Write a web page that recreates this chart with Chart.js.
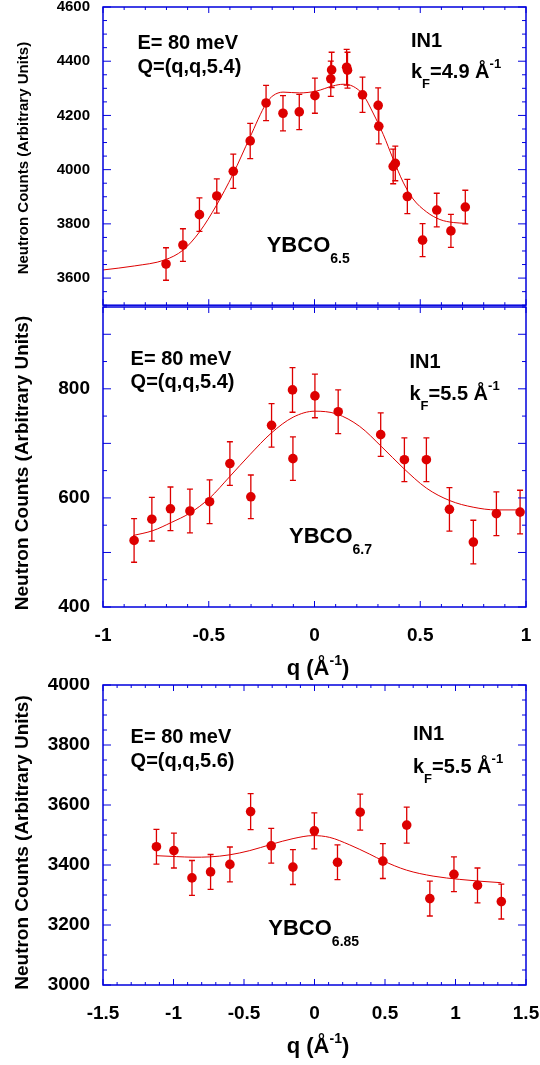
<!DOCTYPE html>
<html>
<head>
<meta charset="utf-8">
<script src="https://cdn.jsdelivr.net/npm/chart.js@4.4.1/dist/chart.umd.min.js"></script>
<style>
  body { margin: 0; background: #fff; }
  #wrap { position: relative; width: 540px; height: 1065px; }
  canvas { position: absolute; left: 0; }
</style>
</head>
<body>
<div id="wrap">
  <canvas id="c65" width="540" height="310" style="top:0px"></canvas>
  <canvas id="c67" width="540" height="380" style="top:300px"></canvas>
  <canvas id="c685" width="540" height="387" style="top:678px"></canvas>
</div>
<script>
// YBCO6.5, E = 80 meV, Q=(q,q,5.4), kF = 4.9
const q65 = [-0.702, -0.622, -0.544, -0.462, -0.384, -0.304, -0.229, -0.149, -0.072, 0.002, 0.077, 0.081,
             0.152, 0.156, 0.227, 0.301, 0.304, 0.372, 0.382, 0.439, 0.511, 0.578, 0.645, 0.713];
const counts65 = [3652, 3722, 3834, 3903, 3994, 4106, 4246, 4208, 4213, 4273, 4335, 4368,
                  4378, 4367, 4276, 4237, 4160, 4012, 4023, 3901, 3740, 3851, 3774, 3862];
const err65 = [60, 60, 62, 63, 63, 65, 65, 65, 65, 65, 65, 65, 66, 66, 65, 65, 65, 64, 64, 63, 61, 62, 61, 62];
const fitQ65 = [-1.0, -0.85, -0.708, -0.622, -0.543, -0.464, -0.385, -0.306, -0.227, -0.196, -0.149, -0.070,
                0.009, 0.088, 0.135, 0.183, 0.230, 0.277, 0.325, 0.372, 0.419, 0.466, 0.530, 0.593, 0.656, 0.719];
const fit65 = [3630, 3645, 3667, 3703, 3771, 3868, 3984, 4118, 4246, 4273, 4286, 4283,
               4290, 4309, 4315, 4307, 4276, 4209, 4130, 4039, 3954, 3892, 3844, 3816, 3805, 3802];
const yTicks65 = [3600, 3800, 4000, 4200, 4400, 4600];

// YBCO6.7, E = 80 meV, Q=(q,q,5.4), kF = 5.5
const q67 = [-0.853, -0.769, -0.681, -0.589, -0.496, -0.400, -0.301, -0.203, -0.104, -0.102,
             0.002, 0.112, 0.313, 0.425, 0.529, 0.638, 0.751, 0.860, 0.972];
const counts67 = [522, 561, 580, 576, 593, 663, 602, 733, 798, 672, 787, 758, 716, 670, 670, 579, 519, 571, 574];
const err67 = [40, 40, 40, 40, 40, 40, 40, 40, 41, 40, 40, 40, 40, 40, 40, 40, 40, 40, 40];
const fitQ67 = [-0.858, -0.764, -0.677, -0.590, -0.495, -0.401, -0.306, -0.204, -0.101, 0.001,
                0.104, 0.214, 0.317, 0.419, 0.529, 0.640, 0.750, 0.860, 0.971];
const fit67 = [531, 540, 555, 572, 600, 639, 679, 719, 748, 759, 754, 731, 694, 655, 618, 595, 583, 578, 578];
const yTicks67 = [400, 600, 800];
const qTicks1 = [-1, -0.5, 0, 0.5, 1];

// YBCO6.85, E = 80 meV, Q=(q,q,5.6), kF = 5.5
const q685 = [-1.121, -0.997, -0.869, -0.737, -0.600, -0.453, -0.307, -0.153, -0.001,
              0.163, 0.324, 0.485, 0.654, 0.818, 0.989, 1.156, 1.325];
const counts685 = [3461, 3448, 3357, 3377, 3402, 3578, 3464, 3393, 3514, 3409, 3576, 3413, 3533, 3288, 3369, 3332, 3278];
const err685 = [58, 58, 58, 58, 58, 60, 58, 58, 60, 58, 60, 58, 60, 58, 58, 58, 58];
const fitQ685 = [-1.121, -0.979, -0.862, -0.743, -0.601, -0.459, -0.305, -0.152, -0.010,
                 0.108, 0.250, 0.392, 0.486, 0.652, 0.841, 1.030, 1.172, 1.325];
const fit685 = [3431, 3428, 3426, 3427, 3434, 3448, 3469, 3488, 3498, 3492, 3467, 3436, 3414, 3383, 3363, 3352, 3346, 3341];
const yTicks685 = [3000, 3200, 3400, 3600, 3800, 4000];
const qTicks2 = [-1.5, -1, -0.5, 0, 0.5, 1, 1.5];

const FONT = "'Liberation Sans', Arial, Helvetica, sans-serif";
const RED = '#dd0000';
const BLUE = '#0000dd';

Chart.defaults.font.family = FONT;

// text with sub/superscripts: parts = [text, size, dy]
function rich(ctx, x, y, parts) {
  let cx = x;
  parts.forEach(([t, size, dy]) => {
    ctx.font = 'bold ' + size + 'px ' + FONT;
    ctx.fillText(t, cx, y + dy);
    cx += ctx.measureText(t).width;
  });
  return cx - x;
}

function noPad(s) {
  s.paddingLeft = 0; s.paddingRight = 0; s.paddingTop = 0; s.paddingBottom = 0;
}

const panelPlugin = {
  id: 'panel',
  beforeDatasetsDraw(chart) {
    const p = chart.config.options.panel;
    const ctx = chart.ctx, xs = chart.scales.x, ys = chart.scales.y;
    ctx.save();
    ctx.strokeStyle = RED;
    ctx.lineWidth = 1.3;
    p.q.forEach((q, i) => {
      const x = xs.getPixelForValue(q);
      const y0 = ys.getPixelForValue(p.counts[i] - p.err[i]);
      const y1 = ys.getPixelForValue(p.counts[i] + p.err[i]);
      ctx.beginPath();
      ctx.moveTo(x, y0); ctx.lineTo(x, y1);
      ctx.moveTo(x - 3, y0); ctx.lineTo(x + 3, y0);
      ctx.moveTo(x - 3, y1); ctx.lineTo(x + 3, y1);
      ctx.stroke();
    });
    ctx.restore();
  },
  afterDraw(chart) {
    const p = chart.config.options.panel;
    const ctx = chart.ctx, xs = chart.scales.x, ys = chart.scales.y;
    const a = chart.chartArea;
    ctx.save();
    ctx.strokeStyle = BLUE;
    ctx.lineWidth = 1;
    // inward ticks
    const yN = Math.round((ys.max - ys.min) / p.yMinor);
    for (let i = 0; i <= yN; i++) {
      const v = ys.min + i * p.yMinor;
      const y = ys.getPixelForValue(v);
      const len = Math.abs(v % p.yMajor) < 1e-6 ? 8 : 4;
      ctx.beginPath();
      ctx.moveTo(a.left, y); ctx.lineTo(a.left + len, y);
      ctx.moveTo(a.right, y); ctx.lineTo(a.right - len, y);
      ctx.stroke();
    }
    const xN = Math.round((xs.max - xs.min) / 0.1);
    for (let i = 0; i <= xN; i++) {
      const v = xs.min + i * 0.1;
      const x = xs.getPixelForValue(v);
      const len = (i % 5 === 0) ? 6 : 3;
      ctx.beginPath();
      ctx.moveTo(x, a.bottom); ctx.lineTo(x, a.bottom - len);
      ctx.moveTo(x, a.top); ctx.lineTo(x, a.top + len);
      ctx.stroke();
    }
    ctx.lineWidth = 1.5;
    ctx.strokeRect(a.left, a.top, a.right - a.left, a.bottom - a.top);

    // texts
    ctx.fillStyle = '#000';
    ctx.textBaseline = 'alphabetic';
    ctx.textAlign = 'left';
    const L = a.left, T = a.top;
    rich(ctx, L + p.eX, T + p.eY, [['E= 80 meV', 20, 0]]);
    rich(ctx, L + p.eX, T + p.eY + 23.5, [[p.qText, 20, 0]]);
    rich(ctx, L + p.inX, T + p.inY, [['IN1', 20, 0]]);
    rich(ctx, L + p.inX, T + p.kY, [['k', 20, 0], ['F', 13, 10], ['=' + p.kf + ' \u00c5', 20, 0], ['-1', 13, -10]]);
    rich(ctx, L + p.sX, T + p.sY, [['YBCO', 22, 0], [p.sub, 14, 11]]);

    // y title
    ctx.save();
    ctx.translate(27.5, (a.top + a.bottom) / 2 + p.titleShift);
    ctx.rotate(-Math.PI / 2);
    ctx.textAlign = 'center';
    ctx.font = 'bold ' + p.titleSize + 'px ' + FONT;
    ctx.fillText('Neutron Counts (Arbitrary Units)', 0, 0);
    ctx.restore();

    // x title
    if (p.showX) {
      const parts = [['q (\u00c5', 22, 0], ['-1', 14, -10], [')', 22, 0]];
      let w = 0;
      parts.forEach(([t, s]) => { ctx.font = 'bold ' + s + 'px ' + FONT; w += ctx.measureText(t).width; });
      rich(ctx, 318 - w / 2, a.bottom + 68, parts);
    }
    ctx.restore();
  }
};

function buildPanel(id, p) {
  return new Chart(document.getElementById(id), {
    type: 'scatter',
    data: {
      datasets: [
        {
          data: p.q.map((x, i) => ({ x, y: p.counts[i] })),
          pointRadius: 4.8,
          pointBackgroundColor: RED,
          pointBorderWidth: 0,
          order: 0,
          clip: false
        },
        {
          type: 'line',
          data: p.fitQ.map((x, i) => ({ x, y: p.fit[i] })),
          borderColor: RED,
          borderWidth: 1,
          pointRadius: 0,
          cubicInterpolationMode: 'monotone',
          fill: false,
          order: 1
        }
      ]
    },
    options: {
      responsive: false,
      animation: false,
      devicePixelRatio: 1,
      events: [],
      panel: p,
      layout: { padding: { top: 7, right: 14, bottom: p.showX ? 0 : 3, left: 0 } },
      plugins: { legend: { display: false }, tooltip: { enabled: false } },
      scales: {
        x: {
          type: 'linear',
          min: p.xMin, max: p.xMax,
          display: p.showX,
          grid: { display: false, drawTicks: false },
          border: { display: false },
          afterBuildTicks: s => { s.ticks = p.xTicks.map(v => ({ value: v })); },
          afterFit: s => { s.height = p.xHeight; noPad(s); },
          ticks: {
            autoSkip: false, maxRotation: 0, padding: 17, color: '#000',
            font: { size: 19, weight: 'bold' },
            callback: v => String(v)
          }
        },
        y: {
          min: p.yMin, max: p.yMax,
          grid: { display: false, drawTicks: false },
          border: { display: false },
          afterBuildTicks: s => { s.ticks = p.yTicks.map(v => ({ value: v })); },
          afterFit: s => { s.width = 103; noPad(s); },
          ticks: {
            autoSkip: false, padding: 13, color: '#000',
            font: { size: p.tickSize, weight: 'bold' },
            callback: v => String(v)
          }
        }
      }
    },
    plugins: [panelPlugin]
  });
}

buildPanel('c65', {
  q: q65, counts: counts65, err: err65, fitQ: fitQ65, fit: fit65,
  xMin: -1, xMax: 1, xTicks: qTicks1, showX: false, xHeight: 0,
  yMin: 3500, yMax: 4600, yTicks: yTicks65, yMajor: 200, yMinor: 50, tickSize: 15,
  titleSize: 15, titleShift: 2,
  qText: 'Q=(q,q,5.4)', kf: '4.9', sub: '6.5',
  eX: 34.4, eY: 42, inX: 308, inY: 40, kY: 71, sX: 163.7, sY: 244.7
});

buildPanel('c67', {
  q: q67, counts: counts67, err: err67, fitQ: fitQ67, fit: fit67,
  xMin: -1, xMax: 1, xTicks: qTicks1, showX: true, xHeight: 73,
  yMin: 400, yMax: 950, yTicks: yTicks67, yMajor: 100, yMinor: 50, tickSize: 19,
  titleSize: 19, titleShift: 6,
  qText: 'Q=(q,q,5.4)', kf: '5.5', sub: '6.7',
  eX: 27.6, eY: 57.7, inX: 306.5, inY: 61, kY: 92.7, sX: 186, sY: 236
});

buildPanel('c685', {
  q: q685, counts: counts685, err: err685, fitQ: fitQ685, fit: fit685,
  xMin: -1.5, xMax: 1.5, xTicks: qTicks2, showX: true, xHeight: 80,
  yMin: 3000, yMax: 4000, yTicks: yTicks685, yMajor: 200, yMinor: 50, tickSize: 19,
  titleSize: 19, titleShift: 7.5,
  qText: 'Q=(q,q,5.6)', kf: '5.5', sub: '6.85',
  eX: 27.6, eY: 58.3, inX: 310, inY: 55, kY: 88.3, sX: 165.3, sY: 250
});
</script>
</body>
</html>
